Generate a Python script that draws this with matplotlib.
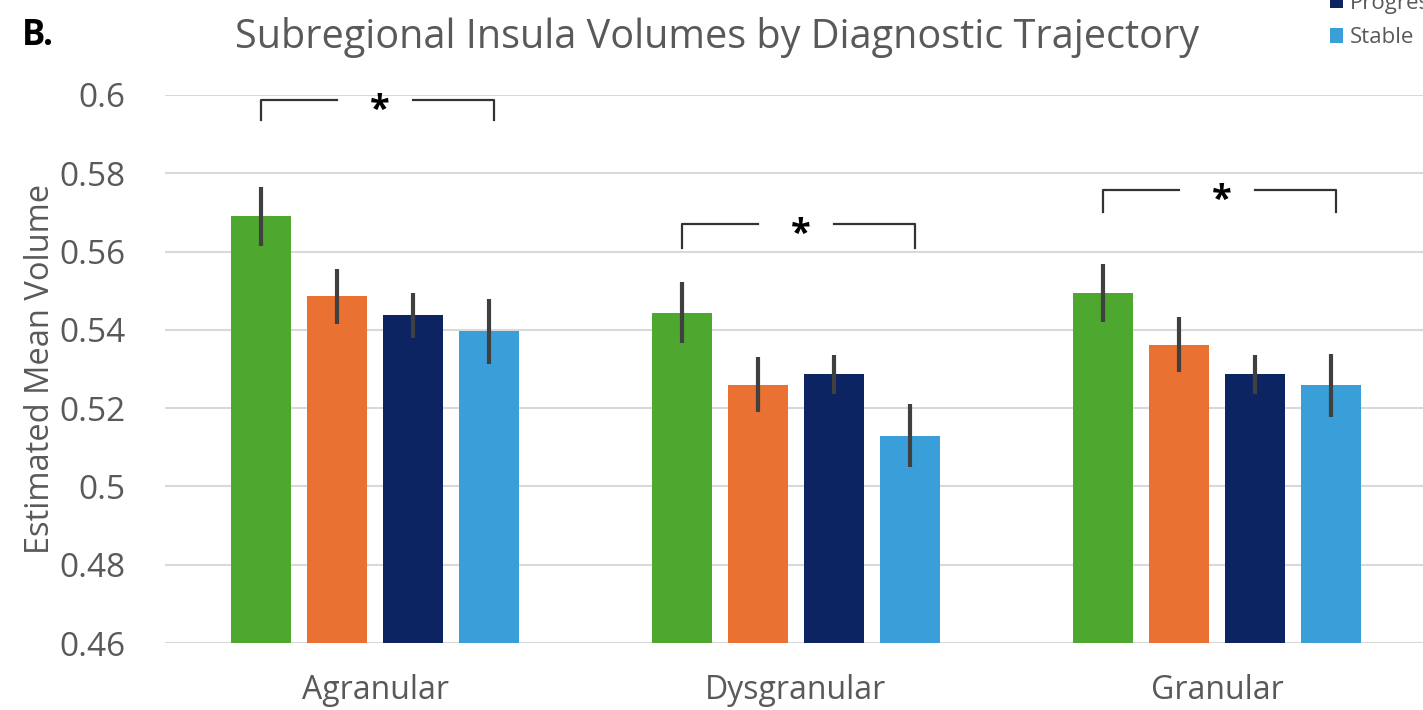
import matplotlib.pyplot as plt
import numpy as np

# data
regions = ['Agranular', 'Dysgranular', 'Granular']
groups = ['Converter', 'Progressor A', 'Progressor', 'Stable']
colors = ['#4EA72E', '#E97132', '#0C2461', '#3A9FD8']

means = [
    [0.569, 0.5486, 0.5437, 0.5396],   # Agranular
    [0.5444, 0.526, 0.5286, 0.513],    # Dysgranular
    [0.5494, 0.5362, 0.5286, 0.5258],  # Granular
]
errors = [
    [0.0075, 0.007, 0.0058, 0.0082],
    [0.0078, 0.007, 0.005, 0.008],
    [0.0075, 0.007, 0.005, 0.008],
]

# significance brackets: (region index, bracket height, tick drop)
brackets = [(0, 0.5987, 0.0051), (1, 0.5670, 0.0061), (2, 0.5757, 0.0056)]

plt.rcParams['font.family'] = ['Open Sans', 'DejaVu Sans']

fig = plt.figure(figsize=(14.23, 7.10), dpi=100)
ax = fig.add_axes([164.5 / 1423, 67 / 710, 1263 / 1423, 548 / 710])

x = np.arange(len(regions))
width = 0.142
step = 0.18
means_arr = np.array(means)
err_arr = np.array(errors)

bars = []
for i, g in enumerate(groups):
    offs = (i - 1.5) * step
    b = ax.bar(x + offs, means_arr[:, i] - 0.46, width, bottom=0.46, color=colors[i],
               label=g, zorder=3)
    ax.errorbar(x + offs, means_arr[:, i], yerr=err_arr[:, i], fmt='none',
                ecolor='#404040', elinewidth=3, capsize=0, zorder=4)
    bars.append(b)

ax.set_ylim(0.46, 0.6)
ax.set_xlim(-0.5, 2.5)
ax.set_yticks(np.arange(0.46, 0.601, 0.02))
ax.set_yticklabels(['0.46', '0.48', '0.5', '0.52', '0.54', '0.56', '0.58', '0.6'])
ax.set_xticks(x)
ax.set_xticklabels(regions)
ax.tick_params(axis='both', length=0, colors='#595959')
ax.tick_params(axis='x', pad=22, labelsize=23)
ax.tick_params(axis='y', pad=28, labelsize=24)
ax.grid(axis='y', color='#D9D9D9', linewidth=1.5, zorder=0)
for s in ax.spines.values():
    s.set_visible(False)

ax.set_ylabel('Estimated Mean Volume', fontsize=23.5, color='#595959', labelpad=2)

# brackets with star
for gi, yb, drop in brackets:
    x0 = gi - 1.5 * step
    x1 = gi + 1.5 * step + 0.012
    xm = gi
    gap = 0.09
    kw = dict(color='#333333', linewidth=1.6, zorder=5, clip_on=False)
    ax.plot([x0, x0, xm - gap], [yb - drop, yb, yb], **kw)
    ax.plot([xm + gap, x1, x1], [yb, yb, yb - drop], **kw)
    ax.text(xm + 0.01, yb - 0.0028, '*', ha='center', va='center', fontsize=26,
            fontweight='bold', color='black', zorder=6, clip_on=False)

fig.text(717 / 1423, 1 - 37 / 710, 'Subregional Insula Volumes by Diagnostic Trajectory',
         ha='center', va='center', fontsize=28.5, color='#595959')
fig.text(22 / 1423, 1 - 36 / 710, 'B.', ha='left', va='center', fontsize=25,
         fontweight='bold', color='black')

fig.legend(handles=[bars[2], bars[3]], labels=['Progressor', 'Stable'],
           loc='upper left', bbox_to_anchor=(1310 / 1423, 1 + 27 / 710),
           frameon=False, fontsize=16, handlelength=0.6, handleheight=0.6,
           handletextpad=0.3, labelspacing=0.6, labelcolor='#595959')

fig.savefig('out.png', dpi=100)
